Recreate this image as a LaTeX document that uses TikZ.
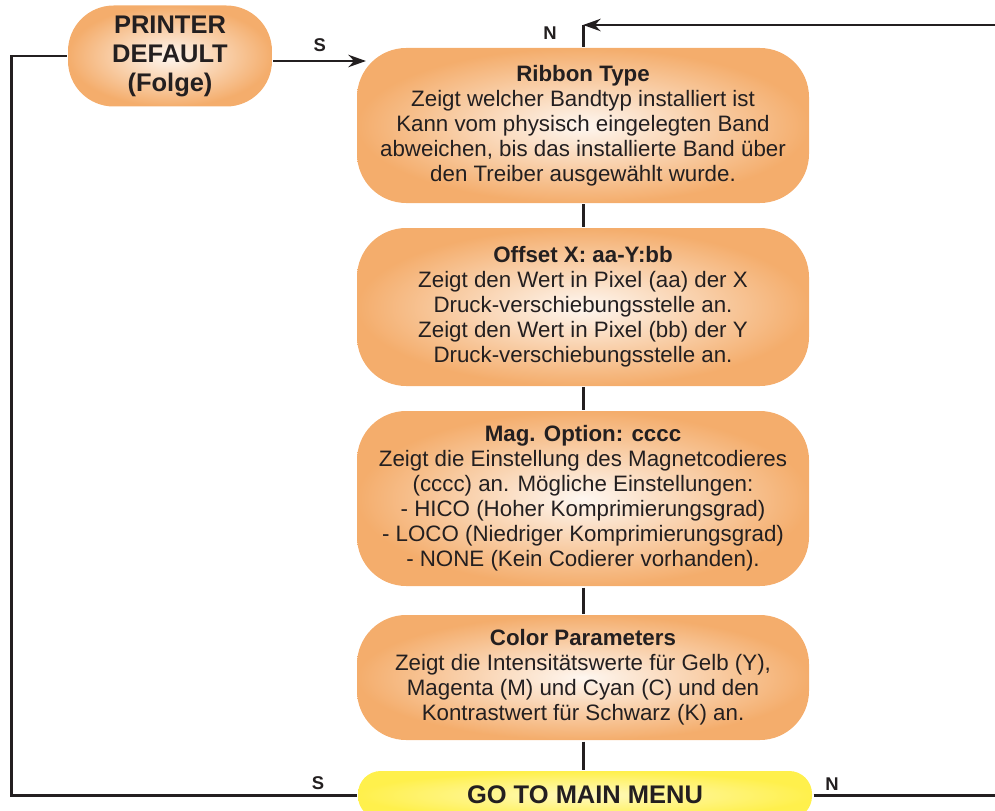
\documentclass[tikz,border=0pt]{standalone}
\usepackage{fontspec}
\setmainfont{Liberation Sans}
\usetikzlibrary{arrows.meta}
\definecolor{boxorange}{HTML}{F4AD6C}
\definecolor{menuyellow}{HTML}{FFF04C}
\definecolor{ink}{HTML}{231F20}
\begin{document}
\begin{tikzpicture}[x=1cm,y=1cm,>={Stealth[length=10pt,width=7pt]},line width=1.7pt]
  \tikzstyle{infobox}=[rounded corners=28pt, minimum width=9.04cm, align=center, text=ink,
    inner color=boxorange!10!white, outer color=boxorange, font=\fontsize{12.7}{14.2}\selectfont]
  \tikzstyle{lbl}=[font=\bfseries\fontsize{10.5}{12}\selectfont, text=ink]

  \useasboundingbox (0,0) rectangle (19.9,-16.2);

  \node[infobox, rounded corners=26pt, minimum width=4.08cm, minimum height=2.02cm,
    font=\bfseries\fontsize{14.5}{16.5}\selectfont] (printer) at (3.4,-1.12) {PRINTER\\DEFAULT\\(Folge)};
  \node[infobox, minimum height=3.1cm] (ribbon) at (11.66,-2.51) {\textbf{Ribbon Type}\\Zeigt welcher Bandtyp installiert ist\\Kann vom physisch eingelegten Band\\abweichen, bis das installierte Band über\\den Treiber ausgewählt wurde.};
  \node[infobox, minimum height=3.16cm] (offset) at (11.66,-6.14) {\textbf{Offset X: aa-Y:bb}\\Zeigt den Wert in Pixel (aa) der X\\Druck-verschiebungsstelle an.\\Zeigt den Wert in Pixel (bb) der Y\\Druck-verschiebungsstelle an.};
  \node[infobox, minimum height=3.5cm] (mag) at (11.66,-9.97) {\textbf{Mag. Option: cccc}\\Zeigt die Einstellung des Magnetcodieres\\(cccc) an. Mögliche Einstellungen:\\- HICO (Hoher Komprimierungsgrad)\\- LOCO (Niedriger Komprimierungsgrad)\\- NONE (Kein Codierer vorhanden).};
  \node[infobox, minimum height=2.5cm] (color) at (11.66,-13.55) {\textbf{Color Parameters}\\Zeigt die Intensitätswerte für Gelb (Y),\\Magenta (M) und Cyan (C) und den\\Kontrastwert für Schwarz (K) an.};
  \node[infobox, rounded corners=13pt, minimum width=9.08cm, minimum height=0.96cm,
    inner color=menuyellow!35!white, outer color=menuyellow,
    font=\bfseries\fontsize{14.5}{16.5}\selectfont] (menu) at (11.7,-15.9) {GO TO MAIN MENU};

  % return from the right
  \coordinate (backR) at (19.9,-0.5);
  \coordinate (backL) at (11.66,-0.5);
  \draw[->, ink] (backR) -- (backL);
  \draw[ink] (backL) -- (ribbon.north);
  \node[lbl] (n1) at (11.0,-0.66) {N};

  \coordinate (sIn) at (7.32,-1.22);
  \draw[->, ink] (printer.east |- sIn) -- node[lbl, above=1pt] {S} (sIn);

  \draw[ink] (ribbon.south) -- (offset.north);
  \draw[ink] (offset.south) -- (mag.north);
  \draw[ink] (mag.south) -- (color.north);
  \draw[ink] (color.south) -- (color.south |- menu.north);

  % loop back to printer default
  \draw[ink] (printer.west) -- ++(-1.1,0) |- (menu.west);
  \node[lbl] (s2) at (6.36,-15.66) {S};

  \coordinate (outR) at (19.9,-15.9);
  \draw[ink] (menu.east) -- (outR);
  \node[lbl] (n2) at (16.64,-15.68) {N};
\end{tikzpicture}
\end{document}
